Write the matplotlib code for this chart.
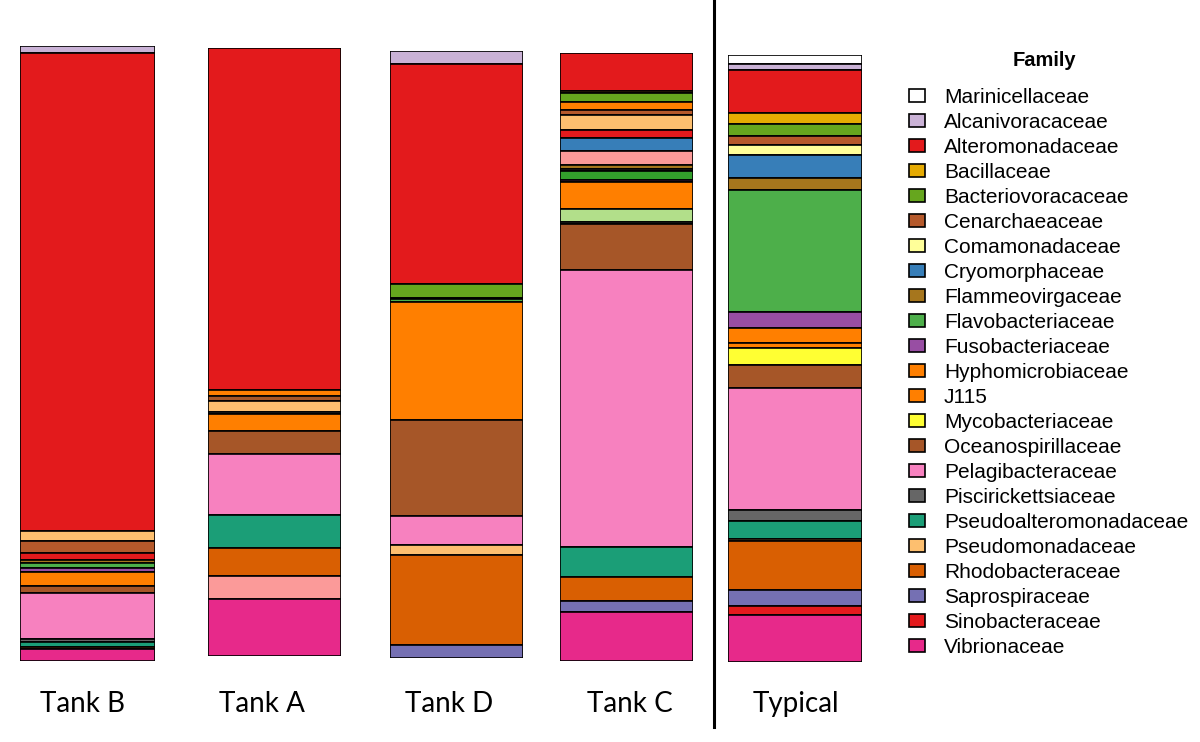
import matplotlib
matplotlib.use("Agg")
import matplotlib.pyplot as plt
from matplotlib.patches import Patch
from matplotlib.lines import Line2D

# ---------------- data ----------------
families = ["Marinicellaceae", "Alcanivoracaceae", "Alteromonadaceae", "Bacillaceae",
            "Bacteriovoracaceae", "Cenarchaeaceae", "Comamonadaceae", "Cryomorphaceae",
            "Flammeovirgaceae", "Flavobacteriaceae", "Fusobacteriaceae", "Hyphomicrobiaceae",
            "J115", "Mycobacteriaceae", "Oceanospirillaceae", "Pelagibacteraceae",
            "Piscirickettsiaceae", "Pseudoalteromonadaceae", "Pseudomonadaceae",
            "Rhodobacteraceae", "Saprospiraceae", "Sinobacteraceae", "Vibrionaceae"]

family_colors = ["#FFFFFF", "#CAB2D6", "#E31A1C", "#E6AB02", "#66A61E", "#B5592B",
                 "#FFFF99", "#377EB8", "#A6761D", "#4DAF4A", "#984EA3", "#FF7F00",
                 "#FF7F00", "#FFFF33", "#A65628", "#F781BF", "#666666", "#1B9E77",
                 "#FDBF6F", "#D95F02", "#7570B3", "#E41A1C", "#E7298A"]

# unlabelled colours that appear in the tank bars only
extra_names = ["salmon", "light green", "dark green"]
extra_colors = ["#FB9A99", "#B2DF8A", "#33A02C"]

bar_labels = ["Tank B", "Tank A", "Tank D", "Tank C", "Typical"]

# segments listed top -> bottom, values in % of reads
tank_b_fam = ["Alcanivoracaceae", "Alteromonadaceae", "Pseudomonadaceae", "Cenarchaeaceae",
              "Sinobacteraceae", "Flammeovirgaceae", "Flavobacteriaceae", "Fusobacteriaceae",
              "Hyphomicrobiaceae", "Oceanospirillaceae", "Pelagibacteraceae",
              "Piscirickettsiaceae", "Pseudoalteromonadaceae", "Rhodobacteraceae", "Vibrionaceae"]
tank_b_val = [1.1, 77.7, 1.6, 2.0, 1.1, 0.5, 0.8, 0.6, 2.3, 1.1, 7.5, 0.5, 0.8, 0.3, 2.0]

tank_a_fam = ["Alteromonadaceae", "Hyphomicrobiaceae", "Oceanospirillaceae", "Pseudomonadaceae",
              "Piscirickettsiaceae", "J115", "Oceanospirillaceae", "Pelagibacteraceae",
              "Pseudoalteromonadaceae", "Rhodobacteraceae", "salmon", "Vibrionaceae"]
tank_a_val = [56.1, 1.0, 0.8, 1.8, 0.4, 2.8, 3.8, 10.0, 5.3, 4.6, 3.8, 9.4]

tank_d_fam = ["Alcanivoracaceae", "Alteromonadaceae", "Bacteriovoracaceae", "Comamonadaceae",
              "Flavobacteriaceae", "Hyphomicrobiaceae", "Oceanospirillaceae", "Pelagibacteraceae",
              "Pseudomonadaceae", "Rhodobacteraceae", "Saprospiraceae"]
tank_d_val = [2.1, 36.1, 2.3, 0.3, 0.5, 19.3, 15.7, 4.9, 1.6, 14.8, 2.1]

tank_c_fam = ["Alteromonadaceae", "Flammeovirgaceae", "Bacteriovoracaceae", "Hyphomicrobiaceae",
              "Cenarchaeaceae", "Pseudomonadaceae", "Sinobacteraceae", "Cryomorphaceae", "salmon",
              "Flammeovirgaceae", "Piscirickettsiaceae", "dark green", "Fusobacteriaceae", "J115",
              "light green", "Piscirickettsiaceae", "Oceanospirillaceae", "Pelagibacteraceae",
              "Pseudoalteromonadaceae", "Rhodobacteraceae", "Saprospiraceae", "Vibrionaceae"]
tank_c_val = [6.2, 0.3, 1.6, 1.3, 0.7, 2.6, 1.2, 2.1, 2.3, 0.7, 0.3, 1.6, 0.3, 4.4,
              2.1, 0.3, 7.6, 45.4, 4.9, 3.9, 1.8, 8.1]

typical_fam = list(families)
typical_val = [1.5, 1.0, 7.1, 1.8, 2.0, 1.5, 1.5, 3.8, 2.0, 20.1, 2.6, 2.6, 0.7, 2.8, 3.8,
               20.1, 1.8, 3.0, 0.3, 8.1, 2.6, 1.6, 7.7]

bars_fam = [tank_b_fam, tank_a_fam, tank_d_fam, tank_c_fam, typical_fam]
bars_val = [tank_b_val, tank_a_val, tank_d_val, tank_c_val, typical_val]

# ---------------- layout ----------------
W, H = 1200, 742
fig = plt.figure(figsize=(12, 7.42), dpi=100)
fig.patch.set_facecolor("white")

color_of = dict(zip(families, family_colors))
color_of.update(dict(zip(extra_names, extra_colors)))

# pixel boxes (left, top, right, bottom) of each bar, and label centre x
boxes = [(20, 46, 155, 661), (208, 48, 341, 656), (390, 51, 523, 658),
         (560, 53, 693, 661), (728, 55, 862, 662)]
label_x = [83, 262, 449, 630, 796]

for fams, vals, (l, t, r, b), lab, lx in zip(bars_fam, bars_val, boxes, bar_labels, label_x):
    ax = fig.add_axes([l / W, 1 - b / H, (r - l) / W, (b - t) / H])
    total = sum(vals)
    bottom = total
    for f, v in zip(fams, vals):
        bottom -= v
        ax.bar(0, v, bottom=bottom, width=1.0, color=color_of[f],
               edgecolor="black", linewidth=1.2)
    ax.set_xlim(-0.5, 0.5)
    ax.set_ylim(0, total)
    ax.axis("off")
    fig.text(lx / W, 1 - 704 / H, lab, ha="center", va="center",
             fontsize=20, family="Lato", color="black")

# separator line
fig.add_artist(Line2D([714 / W, 714 / W], [1, 1 - 727 / H], color="black", linewidth=2.2,
                      transform=fig.transFigure))

# legend
fig.text(1044 / W, 1 - 60 / H, "Family", ha="center", va="center",
         family="Liberation Sans", fontsize=14.5, weight="bold")
handles = [Patch(facecolor=c, edgecolor="black", linewidth=1.2) for c in family_colors]
leg = fig.legend(handles, families, loc="upper left",
                 bbox_to_anchor=(909 / W, 1 - 88 / H), frameon=False,
                 prop={"family": "Liberation Sans", "size": 15},
                 handlelength=0.77, handleheight=0.58, handletextpad=0.9,
                 labelspacing=0.287, borderaxespad=0, borderpad=0)

fig.savefig("out.png", dpi=100, facecolor="white")
